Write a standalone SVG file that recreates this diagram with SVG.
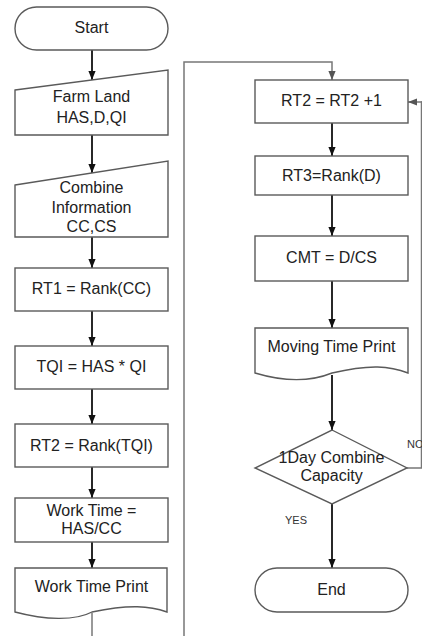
<svg xmlns="http://www.w3.org/2000/svg" width="422" height="636" viewBox="0 0 422 636">
<style>
.shape{fill:#fff;stroke:#5a5a5a;stroke-width:1.4}
.t{font-family:"Liberation Sans",Arial,sans-serif;font-size:16px;fill:#222;text-anchor:middle}
.s{font-family:"Liberation Sans",Arial,sans-serif;font-size:11px;fill:#333}
.c{fill:none;stroke:#111;stroke-width:1.8}
.g{fill:none;stroke:#777;stroke-width:1.5}
</style>
<defs>
<marker id="ab" viewBox="0 0 10 10" refX="10" refY="5" markerWidth="9" markerHeight="9" markerUnits="userSpaceOnUse" orient="auto"><path d="M0,1 L10,5 L0,9 z" fill="#111"/></marker>
<marker id="ag" viewBox="0 0 10 10" refX="10" refY="5" markerWidth="9" markerHeight="9" markerUnits="userSpaceOnUse" orient="auto"><path d="M0,1 L10,5 L0,9 z" fill="#555"/></marker>
</defs>
<rect width="422" height="636" fill="#fff"/>
<g id="connectors">
<line class="c" x1="92" y1="50" x2="92" y2="80" marker-end="url(#ab)"/>
<line class="c" x1="92" y1="135" x2="92" y2="173" marker-end="url(#ab)"/>
<line class="c" x1="92" y1="237" x2="92" y2="268" marker-end="url(#ab)"/>
<line class="c" x1="92" y1="311" x2="92" y2="346" marker-end="url(#ab)"/>
<line class="c" x1="92" y1="389" x2="92" y2="424" marker-end="url(#ab)"/>
<line class="c" x1="92" y1="467" x2="92" y2="498" marker-end="url(#ab)"/>
<line class="c" x1="92" y1="542" x2="92" y2="568" marker-end="url(#ab)"/>
<line class="g" x1="92" y1="613" x2="92" y2="636"/>
<polyline class="g" points="184,636 184,62 332,62 332,80" marker-end="url(#ag)"/>
<line class="c" x1="332" y1="123" x2="332" y2="156" marker-end="url(#ab)"/>
<line class="c" x1="332" y1="195" x2="332" y2="236" marker-end="url(#ab)"/>
<line class="c" x1="332" y1="281" x2="332" y2="328" marker-end="url(#ab)"/>
<line class="c" x1="332" y1="375" x2="332" y2="430" marker-end="url(#ab)"/>
<line class="c" x1="332" y1="504" x2="332" y2="568" marker-end="url(#ab)"/>
<polyline class="g" points="407,468 421.5,468 421.5,102 422,102"/>
<line class="g" x1="422" y1="102" x2="408" y2="102" marker-end="url(#ag)"/>
<text class="s" x="407" y="448">NO</text>
<text class="s" x="285" y="524">YES</text>
</g>
<g id="start">
<rect class="shape" x="15" y="7" width="153" height="43" rx="21.5"/>
<text class="t" x="91.5" y="33">Start</text>
</g>
<g id="farmland">
<polygon class="shape" points="15,90 168,70 168,135 15,135"/>
<text class="t" x="91.5" y="102">Farm Land</text>
<text class="t" x="91.5" y="123">HAS,D,QI</text>
</g>
<g id="combine">
<polygon class="shape" points="15,185 168,161 168,237 15,237"/>
<text class="t" x="91.5" y="193">Combine</text>
<text class="t" x="91.5" y="212.5">Information</text>
<text class="t" x="91.5" y="232">CC,CS</text>
</g>
<g id="rt1">
<rect class="shape" x="15" y="268" width="153" height="43"/>
<text class="t" x="91.5" y="294">RT1 = Rank(CC)</text>
</g>
<g id="tqi">
<rect class="shape" x="15" y="346" width="153" height="43"/>
<text class="t" x="91.5" y="372">TQI = HAS * QI</text>
</g>
<g id="rt2rank">
<rect class="shape" x="15" y="424" width="153" height="43"/>
<text class="t" x="91.5" y="451">RT2 = Rank(TQI)</text>
</g>
<g id="worktime">
<rect class="shape" x="15" y="498" width="153" height="44"/>
<text class="t" x="91.5" y="516">Work Time =</text>
<text class="t" x="91.5" y="534">HAS/CC</text>
</g>
<g id="worktimeprint">
<path class="shape" d="M15,568 H167 V612 C150,606 130,604 92,612 C75,621 45,620 15,612 Z"/>
<text class="t" x="91.5" y="592">Work Time Print</text>
</g>
<g id="rt2inc">
<rect class="shape" x="255" y="80" width="153" height="43"/>
<text class="t" x="331.5" y="106">RT2 = RT2 +1</text>
</g>
<g id="rt3">
<rect class="shape" x="255" y="156" width="153" height="39"/>
<text class="t" x="331.5" y="181">RT3=Rank(D)</text>
</g>
<g id="cmt">
<rect class="shape" x="255" y="236" width="153" height="45"/>
<text class="t" x="331.5" y="263">CMT = D/CS</text>
</g>
<g id="movingprint">
<path class="shape" d="M255,328 H408 V373 C390,366 370,364 332,373 C310,382 285,382 255,373 Z"/>
<text class="t" x="331.5" y="352">Moving Time  Print</text>
</g>
<g id="decision">
<polygon class="shape" points="332,430 407,468 332,504 255,468"/>
<text class="t" x="331.5" y="463">1Day Combine</text>
<text class="t" x="331.5" y="481">Capacity</text>
</g>
<g id="end">
<rect class="shape" x="255" y="568" width="153" height="44" rx="22"/>
<text class="t" x="331.5" y="595">End</text>
</g>
</svg>
